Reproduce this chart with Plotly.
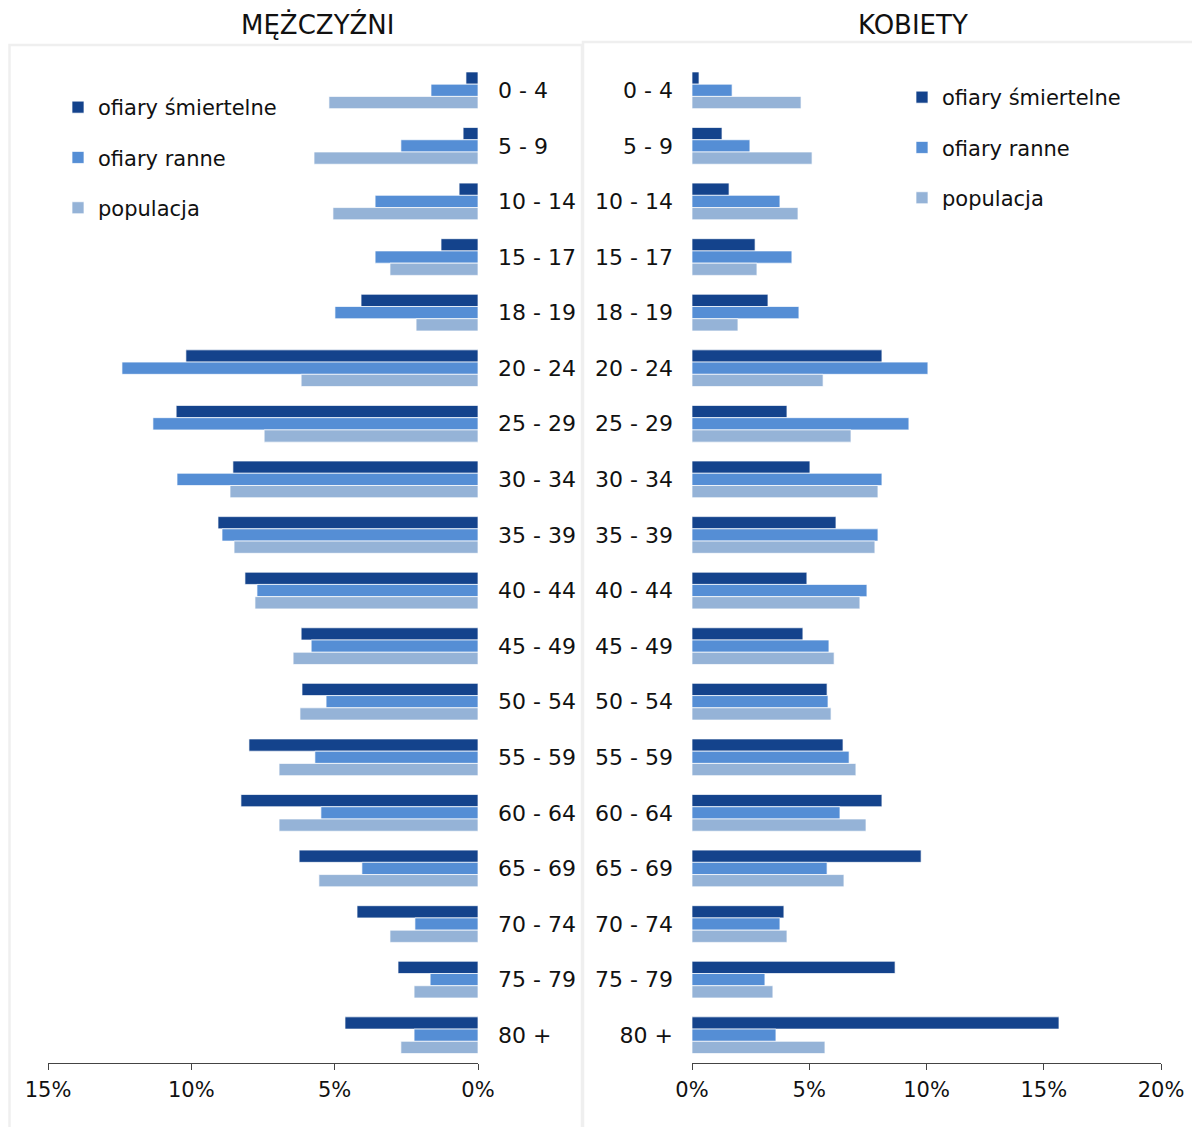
import plotly.graph_objects as go

categories = ["0 - 4", "5 - 9", "10 - 14", "15 - 17", "18 - 19", "20 - 24", "25 - 29",
              "30 - 34", "35 - 39", "40 - 44", "45 - 49", "50 - 54", "55 - 59",
              "60 - 64", "65 - 69", "70 - 74", "75 - 79", "80 +"]

# Men (MĘŻCZYŹNI), values in %
men_killed = [0.42, 0.52, 0.66, 1.29, 4.08, 10.19, 10.53, 8.55, 9.07, 8.13, 6.17, 6.14, 7.99, 8.27, 6.24, 4.22, 2.79, 4.64]
men_injured = [1.64, 2.69, 3.59, 3.59, 4.99, 12.42, 11.34, 10.50, 8.93, 7.71, 5.82, 5.30, 5.69, 5.48, 4.05, 2.20, 1.67, 2.23]
men_population = [5.20, 5.72, 5.06, 3.07, 2.16, 6.17, 7.46, 8.65, 8.51, 7.78, 6.45, 6.21, 6.94, 6.94, 5.55, 3.07, 2.23, 2.69]

# Women (KOBIETY), values in %
women_killed = [0.30, 1.28, 1.58, 2.69, 3.24, 8.10, 4.05, 5.03, 6.14, 4.90, 4.73, 5.76, 6.44, 8.10, 9.77, 3.92, 8.66, 15.65]
women_injured = [1.71, 2.47, 3.75, 4.26, 4.56, 10.06, 9.25, 8.10, 7.93, 7.46, 5.84, 5.80, 6.70, 6.31, 5.76, 3.75, 3.11, 3.58]
women_population = [4.65, 5.12, 4.52, 2.77, 1.96, 5.59, 6.78, 7.93, 7.80, 7.16, 6.06, 5.93, 6.99, 7.42, 6.48, 4.05, 3.45, 5.67]

series_names = ["ofiary śmiertelne", "ofiary ranne", "populacja"]
colors = ["#14438C", "#558ED5", "#95B3D7"]

men_ticks = [0, 5, 10, 15]
women_ticks = [0, 5, 10, 15, 20]

FONT = "DejaVu Sans"
TXT = "#111111"
OFF = 8  # default page body margin
W, H = 1200 - 2 * OFF, 1135 - 2 * OFF


def px(p):
    return (p - OFF) / W


def py(p):
    return 1 - (p - OFF) / H


fig = go.Figure()

men = [men_killed, men_injured, men_population]
women = [women_killed, women_injured, women_population]

for i, (name, col) in enumerate(zip(series_names, colors)):
    fig.add_trace(go.Bar(
        y=categories, x=men[i], orientation="h", name=name,
        marker=dict(color=col, line=dict(color="rgba(255,255,255,0.7)", width=1)),
        xaxis="x", yaxis="y", legend="legend", legendgroup="m%d" % i,
        hovertemplate="%{y}: %{x:.2f}%<extra>" + name + "</extra>",
    ))
for i, (name, col) in enumerate(zip(series_names, colors)):
    fig.add_trace(go.Bar(
        y=categories, x=women[i], orientation="h", name=name,
        marker=dict(color=col, line=dict(color="rgba(255,255,255,0.7)", width=1)),
        xaxis="x2", yaxis="y2", legend="legend2", legendgroup="w%d" % i,
        hovertemplate="%{y}: %{x:.2f}%<extra>" + name + "</extra>",
    ))

n = len(categories)
ydom = [py(1063), py(62.5)]

xcommon = dict(showgrid=False, zeroline=False, showline=True, linecolor="#444444", linewidth=1,
               ticks="outside", ticklen=6, tickcolor="#444444", automargin=False,
               ticklabelstandoff=2,
               tickfont=dict(family=FONT, size=21, color=TXT), fixedrange=True)
ycommon = dict(showgrid=False, zeroline=False, showline=False, ticks="", automargin=False,
               type="category", range=[n - 0.5, -0.5],
               tickfont=dict(family=FONT, size=22, color=TXT), domain=ydom, fixedrange=True)

legend_common = dict(xanchor="left", yanchor="top", bgcolor="rgba(0,0,0,0)",
                     font=dict(family=FONT, size=21, color=TXT),
                     tracegroupgap=20, itemwidth=30, traceorder="grouped")

fig.update_layout(
    width=W, height=H,
    margin=dict(l=0, r=0, t=0, b=0, autoexpand=False),
    paper_bgcolor="white", plot_bgcolor="white",
    barmode="group", bargap=0.34, bargroupgap=0,
    font=dict(family=FONT, color=TXT),
    xaxis=dict(domain=[px(48), px(478)], range=[15, 0], tickvals=men_ticks,
               ticktext=["%d%%" % v for v in men_ticks], anchor="y", **xcommon),
    yaxis=dict(anchor="x", side="right", ticklabelstandoff=19, **ycommon),
    xaxis2=dict(domain=[px(692), px(1161)], range=[0, 20], tickvals=women_ticks,
                ticktext=["%d%%" % v for v in women_ticks], anchor="y2", **xcommon),
    yaxis2=dict(anchor="x2", side="left", ticklabelstandoff=18, **ycommon),
    legend=dict(x=px(58), y=py(87), **legend_common),
    legend2=dict(x=px(902), y=py(77), **legend_common),
    shapes=[
        dict(type="rect", xref="paper", yref="paper", x0=px(9.5), x1=px(582), y0=py(1160), y1=py(45),
             line=dict(color="#EFEFEF", width=2.5), layer="below"),
        dict(type="rect", xref="paper", yref="paper", x0=px(583), x1=px(1230), y0=py(1160), y1=py(42),
             line=dict(color="#EFEFEF", width=2.5), layer="below"),
    ],
    annotations=[
        dict(text="MĘŻCZYŹNI", x=px(317), y=py(25), xref="paper", yref="paper",
             xanchor="center", yanchor="middle", showarrow=False,
             font=dict(family=FONT, size=26, color=TXT)),
        dict(text="KOBIETY", x=px(913), y=py(25), xref="paper", yref="paper",
             xanchor="center", yanchor="middle", showarrow=False,
             font=dict(family=FONT, size=26, color=TXT)),
    ],
)

fig.write_html("out.html")
